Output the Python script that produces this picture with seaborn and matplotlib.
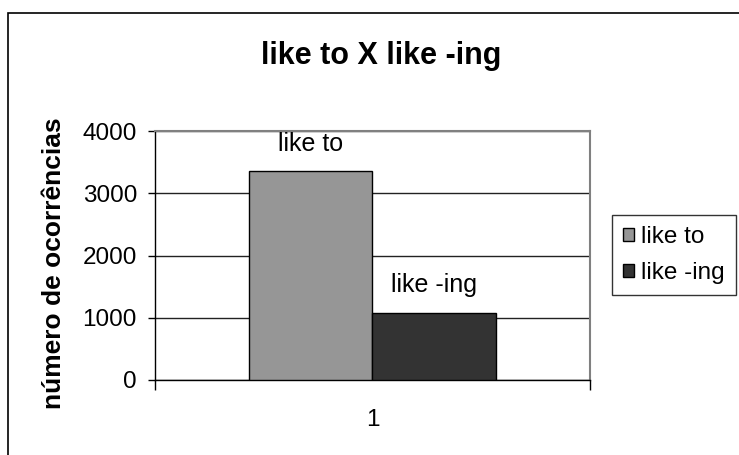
import matplotlib
matplotlib.use("Agg")
import matplotlib.pyplot as plt
import seaborn as sns
import pandas as pd
from matplotlib.patches import Rectangle, Patch

categories = ["1", "1"]
series = ["like to", "like -ing"]
values = [3350, 1080]
colors = ["#969696", "#333333"]
yticks = [0, 1000, 2000, 3000, 4000]
title = "like to X like -ing"
ylabel = "número de ocorrências"

sns.set_theme(style="white")
plt.rcParams["font.family"] = ["Liberation Sans", "DejaVu Sans"]
plt.rcParams["text.color"] = "black"
plt.rcParams["axes.labelcolor"] = "black"
plt.rcParams["xtick.color"] = "black"
plt.rcParams["ytick.color"] = "black"

df = pd.DataFrame({"cat": categories, "serie": series, "valor": values})

fig = plt.figure(figsize=(7.39, 4.55), dpi=100)
ax = fig.add_axes([155/739, 75/455, 435/739, 249/455])

sns.barplot(data=df, x="cat", y="valor", hue="serie", hue_order=series,
            palette=colors, width=0.567, edgecolor="black", linewidth=1.0,
            saturation=1, legend=False, ax=ax, zorder=3)

ax.set_xlim(-0.5, 0.5)
ax.set_ylim(0, 4000)
ax.set_yticks(yticks)
ax.set_yticklabels([str(t) for t in yticks], fontsize=17.5, color="black")
ax.yaxis.grid(True, color="#222222", linewidth=1.0, zorder=0)
ax.set_axisbelow(True)

for sp in ["left", "bottom"]:
    ax.spines[sp].set_color("black")
    ax.spines[sp].set_linewidth(1.0)
for sp in ["top", "right"]:
    ax.spines[sp].set_color("#808080")
    ax.spines[sp].set_linewidth(1.5)

ax.tick_params(axis="y", which="major", direction="out", length=5, width=1,
               color="black", left=True, pad=8)
ax.set_xticks([0])
ax.set_xticklabels(["1"], fontsize=17.5, color="black")
ax.tick_params(axis="x", which="major", length=0, pad=21)
ax.set_xticks([-0.5, 0.5], minor=True)
ax.tick_params(axis="x", which="minor", direction="out", length=7, width=1,
               color="black", bottom=True)
ax.set_xlabel("")
ax.set_ylabel("")

fig.text(54/739, 1 - 263/455, ylabel, rotation=90, ha="center", va="center",
         fontsize=19, fontweight="bold", color="black")

for cont, name in zip(ax.containers, series):
    ax.bar_label(cont, labels=[name], padding=11, fontsize=18, color="black")

fig.text(381/739, 1 - 56/455, title, ha="center", va="center",
         fontsize=22, fontweight="bold", color="black")

handles = [Patch(facecolor=c, edgecolor="black", linewidth=1.0) for c in colors]
leg = fig.legend(handles, series, loc="center left",
                 bbox_to_anchor=(612/739, 1 - 255/455), fontsize=17.5,
                 frameon=True, fancybox=False, edgecolor="black",
                 handlelength=0.45, handleheight=0.45, handletextpad=0.3,
                 labelspacing=0.6, borderpad=0.45, borderaxespad=0)
leg.get_frame().set_linewidth(1.0)
for t in leg.get_texts():
    t.set_color("black")

fig.patches.append(Rectangle((8/739, -0.05), 1.2, 1 - 13/455 + 0.05,
                             transform=fig.transFigure, fill=False,
                             edgecolor="black", linewidth=1.2, clip_on=False))

fig.savefig("out.png", dpi=100, facecolor="white")
